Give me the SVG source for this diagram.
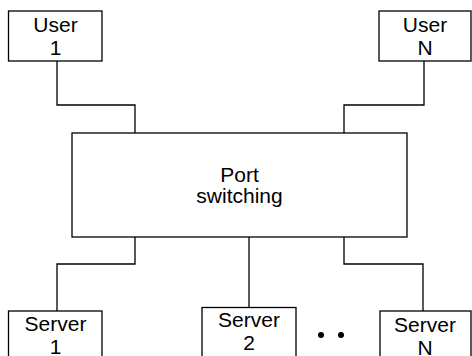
<svg xmlns="http://www.w3.org/2000/svg" width="472" height="356" viewBox="0 0 472 356">
<style>
.box{fill:#fff;stroke:#000;stroke-width:1.3}
.wire{fill:none;stroke:#000;stroke-width:1.3}
text{font-family:"Liberation Sans",Arial,sans-serif;font-size:21px;text-anchor:middle;fill:#000}
</style>
<rect width="472" height="356" fill="#fff"/>
<g id="connectors">
<polyline class="wire" points="57,61 57,105 135,105 135,133"/>
<polyline class="wire" points="424,61 424,105 344,105 344,133"/>
<polyline class="wire" points="135,237 135,264 57,264 57,311"/>
<polyline class="wire" points="249,237 249,307.5"/>
<polyline class="wire" points="344,237 344,264 423,264 423,311"/>
</g>
<g id="user1">
<rect class="box" x="8.5" y="11" width="93.5" height="50"/>
<text x="55.5" y="32">User</text>
<text x="55.5" y="55">1</text>
</g>
<g id="userN">
<rect class="box" x="379" y="11" width="92" height="50"/>
<text x="425" y="32">User</text>
<text x="425" y="55">N</text>
</g>
<g id="port-switching">
<rect class="box" x="72" y="133" width="335" height="104"/>
<text x="239.5" y="182">Port</text>
<text x="239.5" y="203">switching</text>
</g>
<g id="server1">
<rect class="box" x="8.5" y="311" width="93.5" height="50"/>
<text x="55.5" y="331">Server</text>
<text x="55.5" y="354">1</text>
</g>
<g id="server2">
<rect class="box" x="202" y="307.5" width="94" height="50"/>
<text x="249" y="327">Server</text>
<text x="249" y="350">2</text>
</g>
<g id="serverN">
<rect class="box" x="380" y="311" width="91" height="50"/>
<text x="425" y="332">Server</text>
<text x="425" y="355">N</text>
</g>
<g id="dots">
<circle cx="321" cy="335" r="3" fill="#000"/>
<circle cx="341" cy="335" r="3" fill="#000"/>
</g>
</svg>
